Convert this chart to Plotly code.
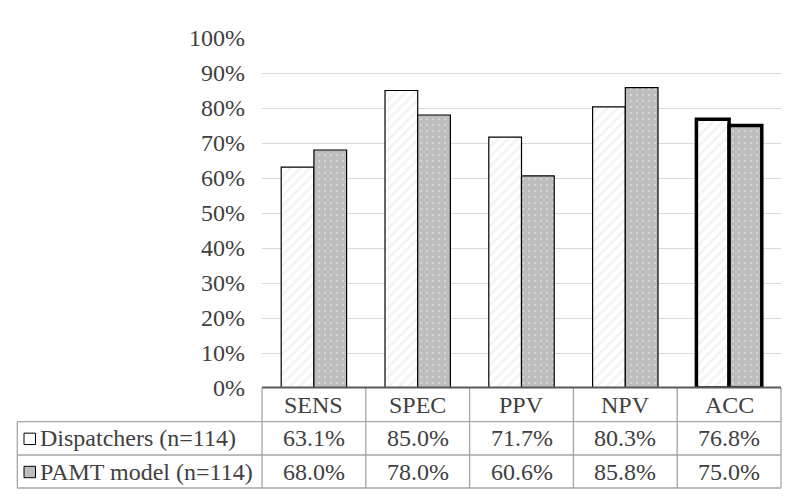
import plotly.graph_objects as go

categories = ["SENS", "SPEC", "PPV", "NPV", "ACC"]
dispatchers = [63.1, 85.0, 71.7, 80.3, 76.8]
pamt = [68.0, 78.0, 60.6, 85.8, 75.0]
series_names = ["Dispatchers (n=114)", "PAMT model (n=114)"]
y_ticks = list(range(0, 101, 10))

OFF = 8  # default page margin of the html body
W, H = 795 - OFF, 503 - OFF
L, R, T, B = 262 - OFF, 14, 38 - OFF, 115
PW, PH = W - L - R, H - T - B

FONT = "Liberation Serif"
TXT = "#404040"
GRID = "#d9d9d9"
TBL = "#a6a6a6"


def px_x(px):
    return (px - OFF - L) / PW


def px_y(py):
    return (H - B - (py - OFF)) / PH


line_w = [1.2, 1.2, 1.2, 1.2, 3.5]

fig = go.Figure()
fig.add_trace(go.Bar(
    x=categories, y=dispatchers, name=series_names[0],
    marker=dict(color="white",
                pattern=dict(shape="/", fgcolor="#e6e6e6", bgcolor="white", size=7, solidity=0.35),
                line=dict(color="black", width=line_w)),
))
fig.add_trace(go.Bar(
    x=categories, y=pamt, name=series_names[1],
    marker=dict(color="#bdbdbd",
                pattern=dict(shape=".", fgcolor="white", bgcolor="#bdbdbd", size=6, solidity=0.08),
                line=dict(color="black", width=line_w)),
))

shapes = []
annotations = []

# table geometry (page pixels)
row_edges = [388, 421.7, 455, 488]
left_px = 17.3
plot_l, plot_r = 262, 781
col_edges = [plot_l + i * (plot_r - plot_l) / len(categories) for i in range(len(categories) + 1)]

for ry in row_edges[1:]:
    shapes.append(dict(type="line", xref="paper", yref="paper",
                       x0=px_x(left_px), x1=px_x(plot_r), y0=px_y(ry), y1=px_y(ry),
                       line=dict(color=TBL, width=1.3)))
for cx in col_edges:
    shapes.append(dict(type="line", xref="paper", yref="paper",
                       x0=px_x(cx), x1=px_x(cx), y0=px_y(row_edges[0]), y1=px_y(row_edges[-1]),
                       line=dict(color=TBL, width=1.3)))
shapes.append(dict(type="line", xref="paper", yref="paper",
                   x0=px_x(left_px), x1=px_x(left_px), y0=px_y(row_edges[1]), y1=px_y(row_edges[-1]),
                   line=dict(color=TBL, width=1.3)))
shapes.append(dict(type="line", xref="paper", yref="paper",
                   x0=0, x1=1, y0=px_y(387.5), y1=px_y(387.5),
                   line=dict(color="#595959", width=2)))

for c in categories:
    annotations.append(dict(x=c, xref="x", y=px_y((row_edges[0] + row_edges[1]) / 2), yref="paper",
                            text=c, showarrow=False, xanchor="center", yanchor="middle",
                            font=dict(family=FONT, size=24, color=TXT)))
for ri, vals in enumerate([dispatchers, pamt]):
    yc = px_y((row_edges[ri + 1] + row_edges[ri + 2]) / 2)
    for c, v in zip(categories, vals):
        annotations.append(dict(x=c, xref="x", y=yc, yref="paper",
                                text=f"{v:.1f}%", showarrow=False, xanchor="center", yanchor="middle",
                                font=dict(family=FONT, size=24, color=TXT)))
    annotations.append(dict(x=px_x(38), xref="paper", y=yc, yref="paper",
                            text=series_names[ri], showarrow=False, xanchor="left", yanchor="middle",
                            font=dict(family=FONT, size=24, color=TXT)))

key_fill = ["white", "#bdbdbd"]
for ri in range(2):
    yc = (row_edges[ri + 1] + row_edges[ri + 2]) / 2 + 0.5
    shapes.append(dict(type="rect", xref="paper", yref="paper",
                       x0=px_x(24), x1=px_x(35.5), y0=px_y(yc - 5.7), y1=px_y(yc + 5.7),
                       fillcolor=key_fill[ri], line=dict(color="black", width=1)))

fig.update_layout(
    width=W, height=H,
    margin=dict(l=L, r=R, t=T, b=B, pad=0),
    font=dict(family=FONT),
    paper_bgcolor="white", plot_bgcolor="white",
    barmode="group", bargap=0.37, bargroupgap=0,
    showlegend=False,
    xaxis=dict(showticklabels=False, showgrid=False, zeroline=False, showline=False, ticks=""),
    yaxis=dict(range=[0, 100], tickvals=y_ticks, ticktext=[f"{t}%" for t in y_ticks],
               showgrid=True, gridcolor=GRID, gridwidth=1.3, zeroline=False, showline=False,
               ticks="", ticklabelstandoff=16,
               tickfont=dict(family=FONT, size=24, color=TXT)),
    shapes=shapes, annotations=annotations,
)

fig.write_html("out.html")
